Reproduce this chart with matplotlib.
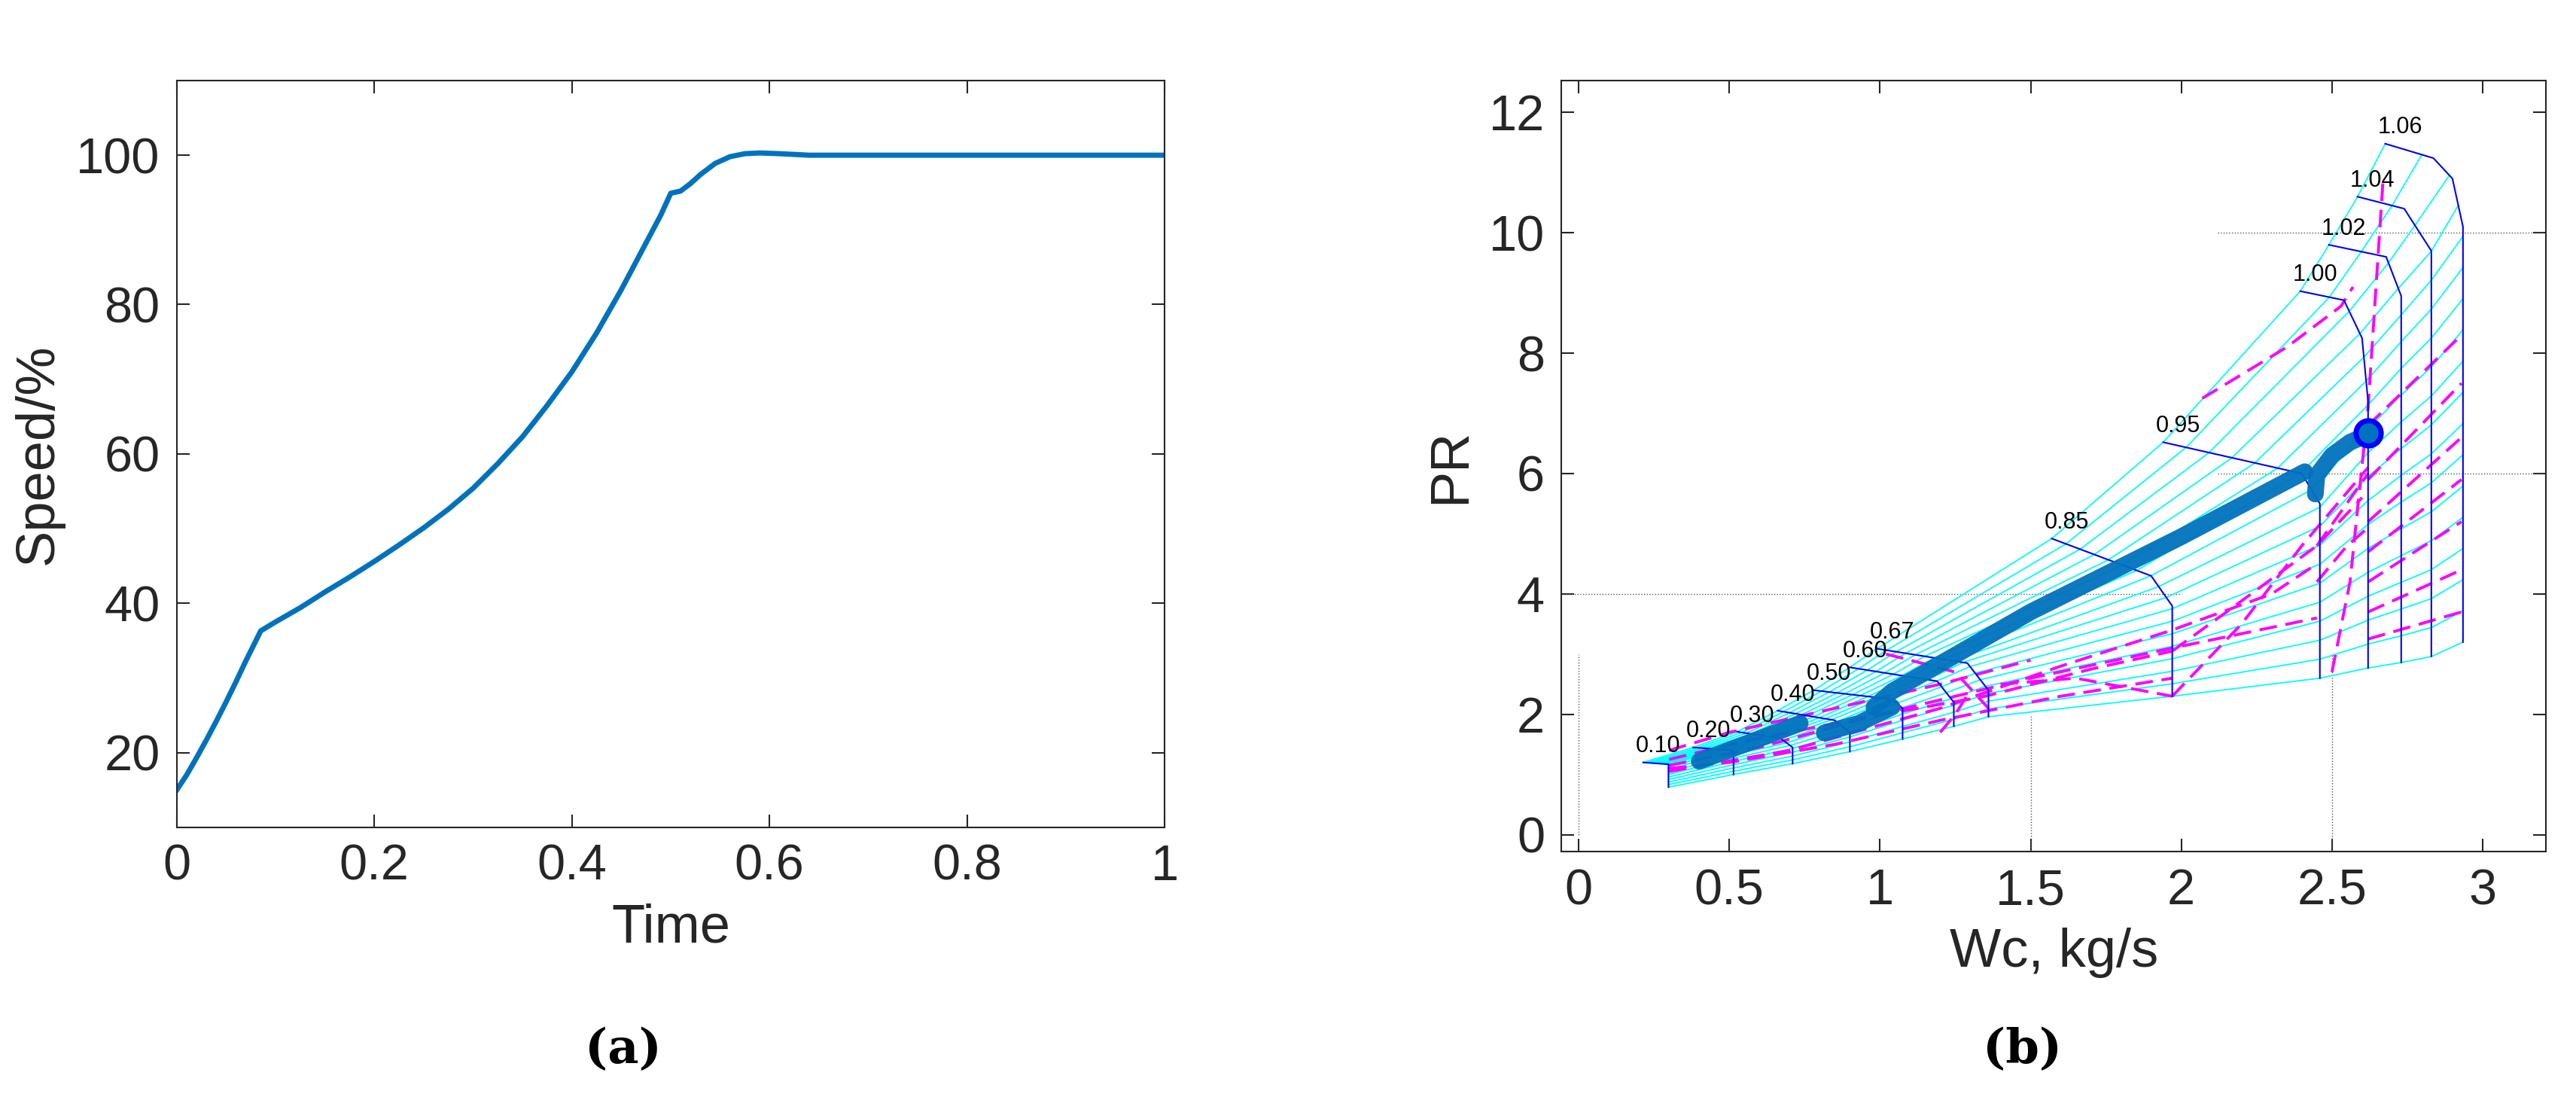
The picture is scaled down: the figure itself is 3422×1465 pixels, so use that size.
import numpy as np
import matplotlib
matplotlib.use("Agg")
import matplotlib.pyplot as plt

plt.rcParams['font.family'] = ['Liberation Sans', 'DejaVu Sans']

# ---- panel (a) data
time = [0, 0.01, 0.02, 0.03, 0.04, 0.05, 0.06, 0.07, 0.085, 0.1, 0.125, 0.15, 0.175, 0.2, 0.225, 0.25,
        0.275, 0.3, 0.325, 0.35, 0.375, 0.4, 0.425, 0.45, 0.47, 0.49, 0.5, 0.51,
        0.52, 0.53, 0.545, 0.56, 0.575, 0.59, 0.61, 0.64, 1.0]
speed = [15, 17, 19.3, 21.7, 24.2, 26.8, 29.5, 32.3, 36.3, 37.5, 39.4, 41.5, 43.5, 45.6, 47.8, 50.1,
         52.6, 55.4, 58.7, 62.3, 66.5, 71, 76.2, 82, 87, 92, 94.9, 95.2,
         96.2, 97.4, 98.9, 99.8, 100.2, 100.3, 100.2, 100.0, 100.0]

# ---- panel (b) data: speed lines (Wc, PR) from surge to choke bottom
speed_labels = ["0.10", "0.20", "0.30", "0.40", "0.50", "0.60", "0.67", "0.85", "0.95", "1.00", "1.02", "1.04", "1.06"]
speed_W = [
    [0.214, 0.298, 0.298],
    [0.380, 0.510, 0.514, 0.514],
    [0.526, 0.670, 0.710, 0.710],
    [0.660, 0.850, 0.900, 0.900],
    [0.780, 1.040, 1.075, 1.075],
    [0.900, 1.190, 1.245, 1.245],
    [0.990, 1.290, 1.360, 1.360],
    [1.570, 1.900, 1.970, 1.970],
    [1.940, 2.400, 2.460, 2.460],
    [2.395, 2.540, 2.600, 2.620, 2.620],
    [2.490, 2.680, 2.730, 2.730],
    [2.585, 2.740, 2.830, 2.830],
    [2.677, 2.837, 2.900, 2.935, 2.935],
]
speed_PR = [
    [1.20, 1.17, 0.79],
    [1.45, 1.40, 1.30, 1.00],
    [1.71, 1.60, 1.45, 1.18],
    [2.06, 1.90, 1.70, 1.38],
    [2.40, 2.25, 2.10, 1.59],
    [2.78, 2.55, 2.20, 1.80],
    [3.09, 2.85, 2.40, 1.96],
    [4.92, 4.30, 3.80, 2.30],
    [6.52, 6.00, 5.50, 2.60],
    [9.03, 8.88, 8.25, 7.20, 2.77],
    [9.80, 9.60, 8.95, 2.86],
    [10.60, 10.40, 9.70, 2.96],
    [11.48, 11.24, 10.90, 10.10, 3.20],
]
# efficiency contours (magenta dashed)
eff_W = [
    [2.07, 2.35, 2.53, 2.57],
    [2.50, 2.56, 2.62, 2.67],
    [2.62, 2.93], [2.62, 2.93], [2.62, 2.93], [2.62, 2.93], [2.62, 2.93], [2.62, 2.93], [2.62, 2.93],
    [1.97, 2.20, 2.40, 2.62],
    [1.97, 2.15, 2.45, 2.60],
    [0.30, 0.70, 1.20, 1.60, 1.97, 2.30, 2.45],
    [0.30, 0.60, 1.00, 1.50, 1.97, 2.45],
    [0.30, 0.55, 0.90, 1.35, 1.70, 1.97],
    [0.30, 0.50, 0.85, 1.20, 1.60, 1.97],
    [1.40, 1.65, 1.97],
    [0.30, 0.50, 0.85, 1.20, 1.50],
    [1.02, 1.10, 1.25, 1.36],
    [1.20, 1.25, 1.30],
    [2.45, 2.55, 2.62],
    [2.45, 2.62],
]
eff_PR = [
    [7.25, 8.10, 8.78, 9.10],
    [2.70, 4.20, 7.10, 10.90],
    [3.25, 3.70], [3.70, 4.40], [4.20, 5.20], [4.70, 5.90], [5.20, 6.60], [5.90, 7.50], [6.80, 8.30],
    [2.30, 3.50, 4.80, 6.10],
    [3.05, 3.70, 4.80, 5.60],
    [1.05, 1.40, 2.10, 2.80, 3.40, 4.00, 4.50],
    [1.15, 1.45, 2.00, 2.60, 3.10, 3.60],
    [1.25, 1.55, 1.90, 2.30, 2.75, 3.05],
    [1.10, 1.20, 1.50, 1.90, 2.30, 2.60],
    [2.50, 2.60, 2.30],
    [1.40, 1.70, 2.10, 2.50, 2.90],
    [3.00, 2.90, 2.70, 2.10],
    [1.70, 2.00, 2.40],
    [4.20, 4.80, 5.10],
    [4.80, 6.00],
]
# operating line segments
op_W = [[0.40, 0.55, 0.735], [0.815, 0.93, 1.04], [0.98, 1.04, 1.50, 2.00, 2.41],
        [2.445, 2.45, 2.50, 2.56, 2.62]]
op_PR = [[1.22, 1.50, 1.85], [1.69, 1.85, 2.12], [2.12, 2.38, 3.70, 4.95, 6.03],
         [5.66, 5.97, 6.30, 6.52, 6.65]]
end_point = (2.62, 6.67)

fig = plt.figure(figsize=(34.23, 14.65), dpi=100)
tc = '#262626'
blue = '#0072BD'

def style(ax):
    ax.tick_params(direction='in', length=12, width=1.5, colors=tc, labelsize=48,
                   top=True, right=True, pad=16)
    for s in ax.spines.values():
        s.set_color(tc); s.set_linewidth(1.5)

ax1 = fig.add_axes([0.0686, 0.25, 0.3834, 0.677])
ax1.plot(time, speed, color=blue, lw=5)
ax1.set_xlim(0, 1); ax1.set_ylim(10, 110)
ax1.set_xticks([0, 0.2, 0.4, 0.6, 0.8, 1]); ax1.set_xticklabels(['0', '0.2', '0.4', '0.6', '0.8', '1'])
ax1.set_yticks([20, 40, 60, 80, 100])
ax1.set_xlabel('Time', fontsize=52, color=tc, labelpad=12)
ax1.set_ylabel('Speed/%', fontsize=52, color=tc, labelpad=12)
style(ax1)

ax2 = fig.add_axes([0.606, 0.228, 0.382, 0.699])
gc = '#555555'
ax2.plot([0, 0], [0, 3], color=gc, lw=1, ls=':')
ax2.plot([1.5, 1.5], [-0.3, 2.0], color=gc, lw=1, ls=':')
ax2.plot([2.5, 2.5], [-0.3, 3.0], color=gc, lw=1, ls=':')
ax2.plot([-0.06, 2.0], [4, 4], color=gc, lw=1, ls=':')
ax2.plot([2.12, 3.22], [6, 6], color=gc, lw=1, ls=':')
ax2.plot([2.12, 3.22], [10, 10], color=gc, lw=1, ls=':')

# beta lines: connect equal arc-length fractions along each speed line
curves = []
for w, p in zip(speed_W, speed_PR):
    w = np.array(w); p = np.array(p)
    d = np.concatenate([[0], np.cumsum(np.hypot(np.diff(w) / 3.2, np.diff(p) / 12.8))])
    curves.append((w, p, d / d[-1]))
for b in np.linspace(0, 1, 18):
    bw = [np.interp(b, t, w) for w, p, t in curves]
    bp = [np.interp(b, t, p) for w, p, t in curves]
    ax2.plot(bw, bp, color='cyan', lw=1.3)

for w, p in zip(eff_W, eff_PR):
    ax2.plot(w, p, color='magenta', lw=2.8, ls=(0, (6, 3)))

for lab, w, p in zip(speed_labels, speed_W, speed_PR):
    ax2.plot(w, p, color='blue', lw=1.5)
    ax2.text(w[0] + 0.05, p[0] + 0.08, lab, fontsize=22, ha='center', va='bottom', color='black')

for w, p in zip(op_W, op_PR):
    ax2.plot(w, p, color=blue, lw=16, solid_capstyle='round', alpha=0.95)
ax2.plot([end_point[0]], [end_point[1]], 'o', ms=24, mfc=blue, mec='blue', mew=5)

ax2.set_xlim(-0.057, 3.21); ax2.set_ylim(-0.28, 12.53)
ax2.set_xticks([0, 0.5, 1, 1.5, 2, 2.5, 3]); ax2.set_xticklabels(['0', '0.5', '1', '1.5', '2', '2.5', '3'])
ax2.set_yticks([0, 2, 4, 6, 8, 10, 12])
ax2.set_xlabel('Wc, kg/s', fontsize=52, color=tc, labelpad=12)
ax2.set_ylabel('PR', fontsize=52, color=tc, labelpad=12)
style(ax2)

fig.text(0.242, 0.048, '(a)', fontsize=46, family='DejaVu Serif', ha='center', va='center', fontweight='bold')
fig.text(0.785, 0.048, '(b)', fontsize=46, family='DejaVu Serif', ha='center', va='center', fontweight='bold')

fig.savefig('out.png', dpi=100)
